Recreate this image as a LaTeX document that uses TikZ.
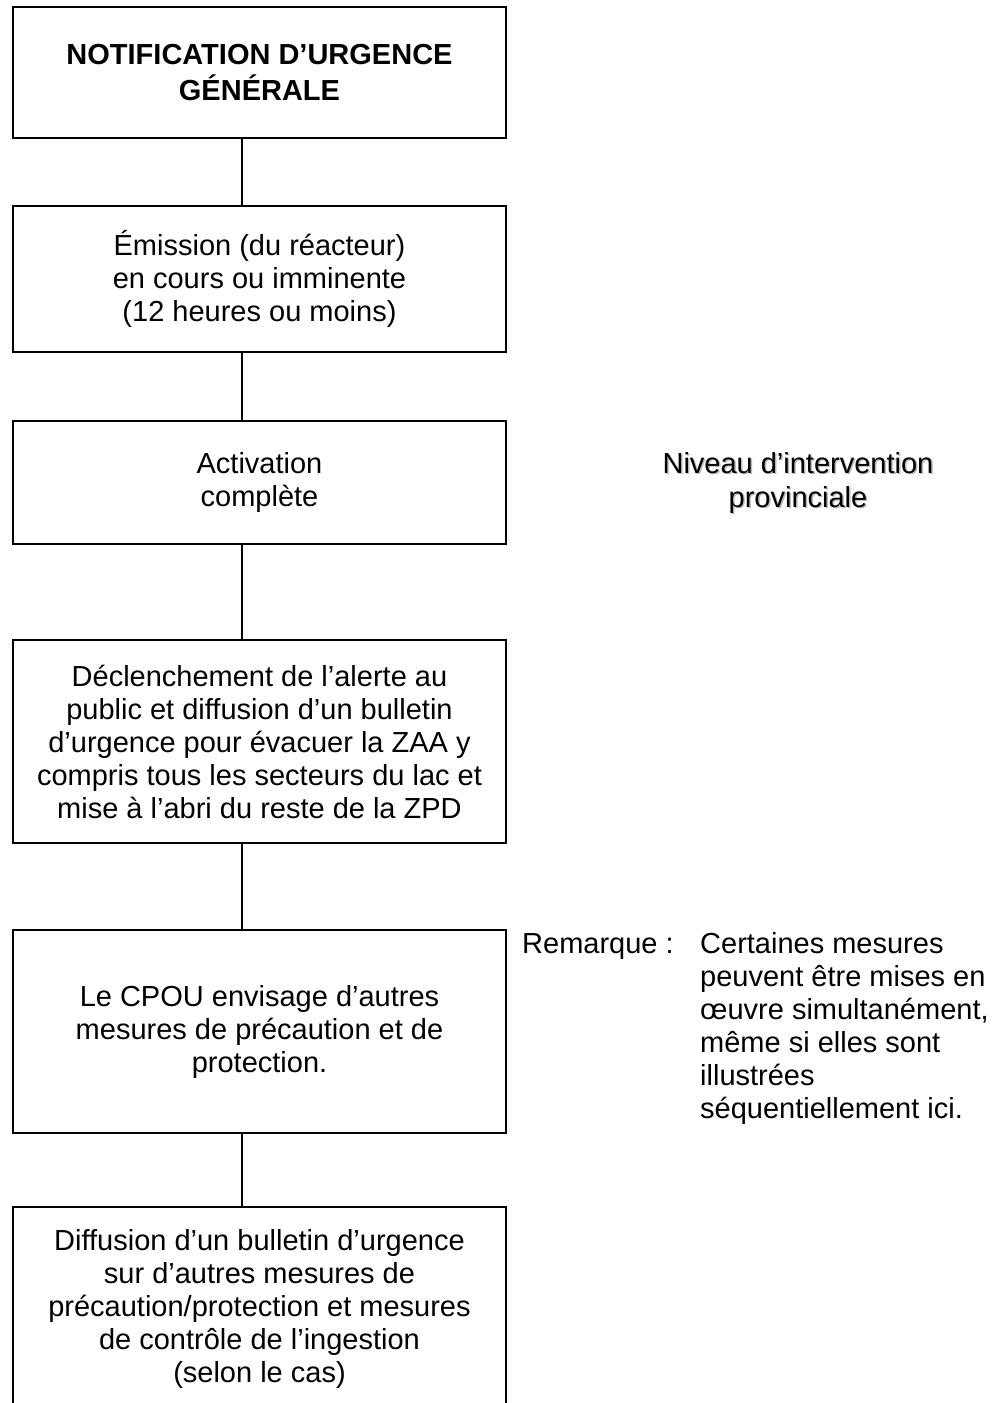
\documentclass[tikz,border=0pt]{standalone}
\usepackage{fontspec}
\setmainfont{Liberation Sans}[Ligatures=NoCommon]
\usepackage{tikz}

\tikzset{
  etape/.style={draw, line width=2.2pt, minimum width=493pt, inner sep=0pt,
    align=center, font=\fontsize{29}{33}\selectfont},
  titre/.style={etape, font=\bfseries\fontsize{29}{36}\selectfont},
  lien/.style={line width=2.2pt},
  note/.style={inner sep=0pt, align=left, font=\fontsize{29}{33}\selectfont},
}

\begin{document}
\begin{tikzpicture}[x=1pt, y=-1pt]

      \useasboundingbox (0,0) rectangle (994,1403);

      % boxes of the chain
      \node[titre, minimum height=131pt] (notif) at (259.5,72.5)
        {NOTIFICATION D’URGENCE\\GÉNÉRALE};
      \node[etape, minimum height=146pt] (emission) at (259.5,279)
        {Émission (du réacteur)\\en cours ou imminente\\(12 heures ou moins)};
      \node[etape, minimum height=123pt] (activation) at (259.5,482.5)
        {Activation\\complète};
      \node[etape, minimum height=203pt] (alerte) at (259.5,741.5)
        {Déclenchement de l’alerte au\\public et diffusion d’un bulletin\\
         d’urgence pour évacuer la ZAA y\\compris tous les secteurs du lac et\\
         mise à l’abri du reste de la ZPD};
      \node[etape, minimum height=203pt] (cpou) at (259.5,1031.5)
        {Le CPOU envisage d’autres\\mesures de précaution et de\\protection.};
      \node[etape, minimum height=203pt] (bulletin) at (259.5,1308.5)
        {Diffusion d’un bulletin d’urgence\\sur d’autres mesures de\\
         précaution/protection et mesures\\de contrôle de l’ingestion\\(selon le cas)};

      % vertical links
      \coordinate (tronc) at (242,0);
      \foreach \haut/\bas in {notif/emission, emission/activation,
          activation/alerte, alerte/cpou, cpou/bulletin}
        \draw[lien] (\haut.south -| tronc) -- (\bas.north -| tronc);

      % right side texts
      \node[align=center, inner sep=0pt, text=gray!55,
        font=\fontsize{29}{34}\selectfont] (niveauombre) at (799.5,484)
        {Niveau d’intervention\\provinciale};
      \node[align=center, inner sep=0pt,
        font=\fontsize{29}{34}\selectfont] (niveau) at (798,482.5)
        {Niveau d’intervention\\provinciale};

      \node[note, anchor=base west] (remarque) at (522,953) {Remarque :};
      \node[note, anchor=north west] (remtexte) at (700,932)
        {Certaines mesures\\peuvent être mises en\\œuvre simultanément,\\
         même si elles sont\\illustrées\\séquentiellement ici.};

\end{tikzpicture}
\end{document}
